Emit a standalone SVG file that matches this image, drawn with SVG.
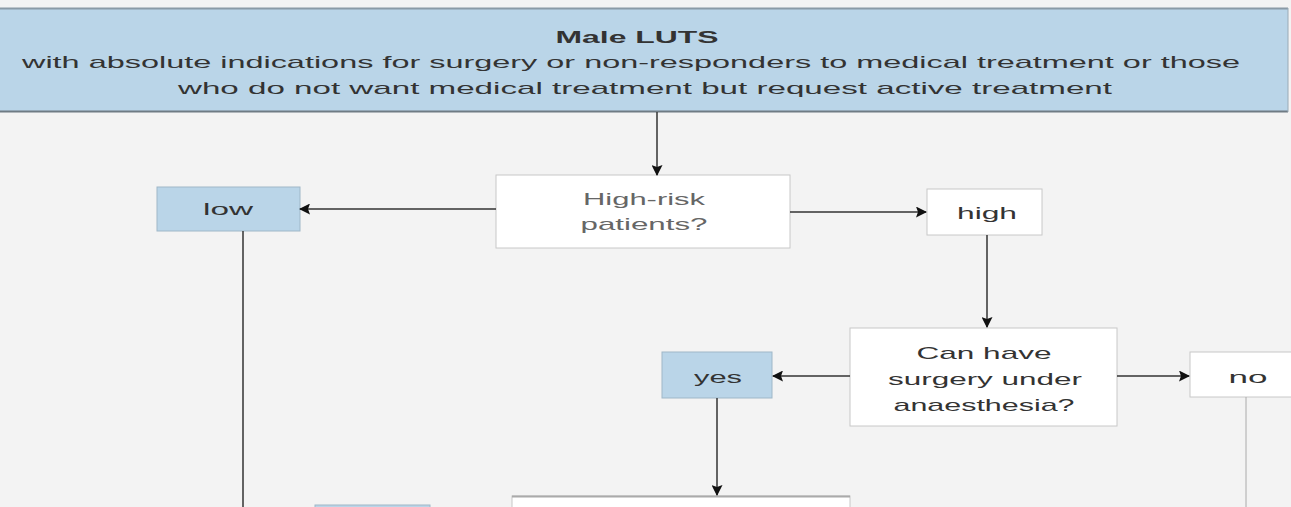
<svg xmlns="http://www.w3.org/2000/svg" width="1291" height="507" viewBox="0 0 1291 507">
<style>
text{font-family:"Liberation Sans",Arial,sans-serif;text-anchor:middle;}
.t{font-size:17px;fill:#333;}
.g{font-size:17px;fill:#666;}
.blue{fill:#bad5e8;stroke:#9fb7c8;stroke-width:1;}
.white{fill:#ffffff;stroke:#c8c8c8;stroke-width:1;}
.c{stroke:#333;stroke-width:1.5;fill:none;}
.cl{stroke:#aaa;stroke-width:1;fill:none;}
</style>
<defs>
<marker id="ah" markerWidth="11" markerHeight="11" refX="10" refY="5.5" orient="auto" markerUnits="userSpaceOnUse">
<path d="M0,0 L11,5.5 L0,11 L2,5.5 z" fill="#111"/>
</marker>
</defs>
<rect x="0" y="0" width="1291" height="507" fill="#f3f3f3"/>

<g id="top">
<rect x="0" y="8" width="1288" height="104" fill="#bad5e8"/>
<line x1="0" y1="8.5" x2="1288" y2="8.5" stroke="#8a9aa6" stroke-width="2"/>
<line x1="0" y1="111.5" x2="1288" y2="111.5" stroke="#6f7b84" stroke-width="2"/>
<line x1="1288" y1="8" x2="1288" y2="112" stroke="#9aaab6" stroke-width="1"/>
<text class="t" x="637" y="43" font-weight="bold" textLength="163" lengthAdjust="spacingAndGlyphs">Male LUTS</text>
<text class="t" x="631" y="68" textLength="1218" lengthAdjust="spacingAndGlyphs">with absolute indications for surgery or non-responders to medical treatment or those</text>
<text class="t" x="645" y="94" textLength="934" lengthAdjust="spacingAndGlyphs">who do not want medical treatment but request active treatment</text>
</g>

<g id="highrisk">
<rect class="white" x="496" y="175" width="294" height="73"/>
<text class="g" x="644" y="205" textLength="122" lengthAdjust="spacingAndGlyphs">High-risk</text>
<text class="g" x="644" y="230" textLength="127" lengthAdjust="spacingAndGlyphs">patients?</text>
</g>

<g id="low">
<rect class="blue" x="157" y="187" width="143" height="44"/>
<text class="t" x="228" y="215" textLength="50" lengthAdjust="spacingAndGlyphs">low</text>
</g>

<g id="high">
<rect class="white" x="927" y="189" width="115" height="46"/>
<text class="t" x="987" y="219" textLength="60" lengthAdjust="spacingAndGlyphs">high</text>
</g>

<g id="anaesthesia">
<rect class="white" x="850" y="328" width="267" height="98"/>
<text class="t" x="984" y="359" textLength="135" lengthAdjust="spacingAndGlyphs">Can have</text>
<text class="t" x="985" y="385" textLength="194" lengthAdjust="spacingAndGlyphs">surgery under</text>
<text class="t" x="984" y="411" textLength="181" lengthAdjust="spacingAndGlyphs">anaesthesia?</text>
</g>

<g id="yes">
<rect class="blue" x="662" y="352" width="110" height="46"/>
<text class="t" x="718" y="383" textLength="48" lengthAdjust="spacingAndGlyphs">yes</text>
</g>

<g id="no">
<rect class="white" x="1190" y="352" width="105" height="45"/>
<text class="t" x="1248" y="383" textLength="39" lengthAdjust="spacingAndGlyphs">no</text>
</g>

<g id="bottom-left">
<rect class="blue" x="315" y="505" width="115" height="10"/>
</g>

<g id="bottom-center">
<rect class="white" x="512" y="496" width="338" height="20"/>
<line x1="512" y1="496.5" x2="850" y2="496.5" stroke="#aaa" stroke-width="2"/>
</g>

<g id="connectors">
<line class="c" x1="657" y1="112" x2="657" y2="175" marker-end="url(#ah)"/>
<line class="c" x1="496" y1="209" x2="300" y2="209" marker-end="url(#ah)" stroke-width="1"/>
<line class="c" x1="790" y1="212" x2="926" y2="212" marker-end="url(#ah)" stroke-width="1"/>
<line class="c" x1="987" y1="235" x2="987" y2="327" marker-end="url(#ah)"/>
<line class="c" x1="850" y1="376" x2="773" y2="376" marker-end="url(#ah)" stroke-width="1"/>
<line class="c" x1="1117" y1="376" x2="1189" y2="376" marker-end="url(#ah)" stroke-width="1"/>
<line class="c" x1="717" y1="398" x2="717" y2="495" marker-end="url(#ah)"/>
<line class="c" x1="243" y1="231" x2="243" y2="507" stroke-width="2"/>
<line class="cl" x1="1246" y1="397" x2="1246" y2="507"/>
</g>
</svg>
